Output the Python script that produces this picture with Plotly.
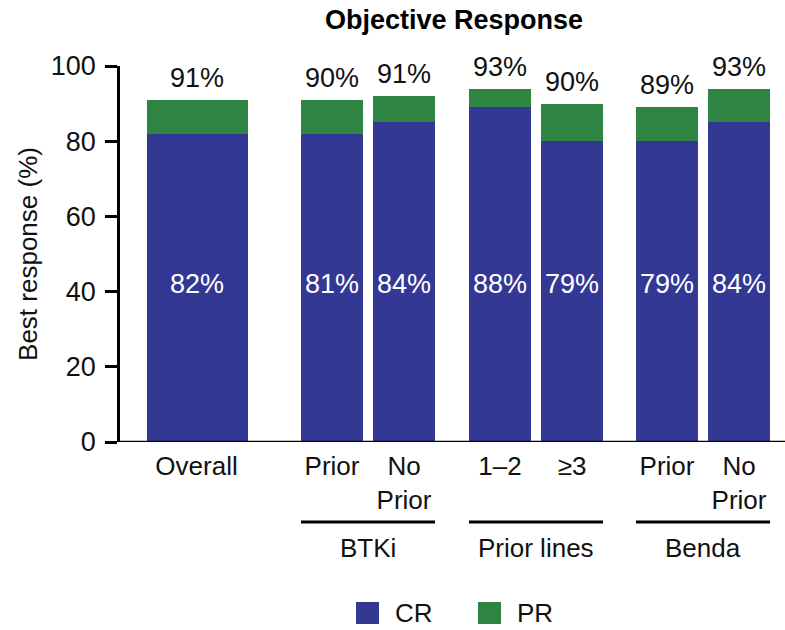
import plotly.graph_objects as go

# ---------------- data ----------------
group_names = ["", "BTKi", "Prior lines", "Benda"]
group_categories = [["Overall"], ["Prior", "No<br>Prior"], ["1–2", "≥3"], ["Prior", "No<br>Prior"]]
cr_values = [82, 82, 85, 89, 80, 80, 85]
pr_values = [9, 9, 7, 5, 10, 9, 9]
cr_labels = ["82%", "81%", "84%", "88%", "79%", "79%", "84%"]
orr_labels = ["91%", "90%", "91%", "93%", "90%", "89%", "93%"]
y_ticks = [0, 20, 40, 60, 80, 100]
series_names = ["CR", "PR"]

# ---------------- style / layout ----------------
W, H = 785, 630
L, R, T, B = 118, 0, 66, 188
PW, PH = W - L - R, H - T - B
CR_COLOR = "#343895"
PR_COLOR = "#2E8442"
FONT = "Liberation Sans, Arial, Helvetica, sans-serif"
TXT = "#111111"
FS = 26
GROUP_CENTER_PX = [196.5, 368, 536, 703]
GROUP_DOMAIN_PX = 144
BAR_PX = [101, 62, 62, 62]
CR_LABEL_Y = 42
GROUP_LINE_PX = 522
GROUP_LABEL_PX = 548


def px_x(px):
    return (px - L) / PW


def px_y(py):
    return (H - B - py) / PH


fig = go.Figure()
annotations = []
shapes = []
layout_axes = {}

idx = 0
for g, cats in enumerate(group_categories):
    n = len(cats)
    ax = "x" if g == 0 else f"x{g + 1}"
    axkey = "xaxis" if g == 0 else f"xaxis{g + 1}"
    cr = cr_values[idx:idx + n]
    pr = pr_values[idx:idx + n]
    crl = cr_labels[idx:idx + n]
    orl = orr_labels[idx:idx + n]
    width = BAR_PX[g] / (GROUP_DOMAIN_PX / n)
    fig.add_trace(go.Bar(x=cats, y=cr, name=series_names[0], marker_color=CR_COLOR,
                         marker_line_width=0, width=width, xaxis=ax, yaxis="y",
                         showlegend=False, hoverinfo="skip"))
    fig.add_trace(go.Bar(x=cats, y=pr, name=series_names[1], marker_color=PR_COLOR,
                         marker_line_width=0, width=width, xaxis=ax, yaxis="y",
                         showlegend=False, hoverinfo="skip"))
    c0 = GROUP_CENTER_PX[g] - GROUP_DOMAIN_PX / 2
    c1 = GROUP_CENTER_PX[g] + GROUP_DOMAIN_PX / 2
    layout_axes[axkey] = dict(
        domain=[px_x(c0), px_x(c1)], anchor="y", range=[-0.5, n - 0.5],
        type="category", categoryorder="array", categoryarray=cats,
        showline=False, showgrid=False, zeroline=False, ticks="",
        ticklabelstandoff=6,
        tickfont=dict(size=FS, color=TXT, family=FONT),
    )
    for k in range(n):
        annotations.append(dict(x=cats[k], y=CR_LABEL_Y, xref=ax, yref="y", text=crl[k],
                                showarrow=False, font=dict(size=27, color="white", family=FONT),
                                yanchor="middle"))
        annotations.append(dict(x=cats[k], y=cr[k] + pr[k], xref=ax, yref="y", text=orl[k],
                                showarrow=False, font=dict(size=27, color=TXT, family=FONT),
                                yanchor="bottom", yshift=5))
    if group_names[g]:
        shapes.append(dict(type="line", xref=ax, yref="paper", x0=-width / 2,
                           x1=n - 1 + width / 2, y0=px_y(GROUP_LINE_PX), y1=px_y(GROUP_LINE_PX),
                           line=dict(color="black", width=3)))
        annotations.append(dict(x=(n - 1) / 2, xref=ax, y=px_y(GROUP_LABEL_PX), yref="paper",
                                text=group_names[g], showarrow=False, yanchor="middle",
                                font=dict(size=FS, color=TXT, family=FONT)))
    idx += n

# baseline
shapes.append(dict(type="line", xref="paper", yref="y", x0=0, x1=1, y0=0, y1=0,
                   line=dict(color="black", width=2.5)))

# manual legend
for i, (name, col, sx, tx) in enumerate([(series_names[0], CR_COLOR, 356, 393),
                                         (series_names[1], PR_COLOR, 478, 515)]):
    shapes.append(dict(type="rect", xref="paper", yref="paper",
                       x0=px_x(sx), x1=px_x(sx + 23), y0=px_y(602), y1=px_y(624),
                       fillcolor=col, line=dict(width=0)))
    annotations.append(dict(x=px_x(tx), y=px_y(613), xref="paper", yref="paper", text=name,
                            showarrow=False, xanchor="left", yanchor="middle",
                            font=dict(size=FS, color=TXT, family=FONT)))

fig.update_layout(
    width=W, height=H, margin=dict(l=L, r=R, t=T, b=B, autoexpand=False),
    paper_bgcolor="white", plot_bgcolor="white",
    barmode="stack", bargap=0,
    font=dict(family=FONT, size=FS, color=TXT),
    title=dict(text="<b>Objective Response</b>", x=454 / W, xanchor="center",
               y=1 - 20 / H, yanchor="middle", font=dict(size=27, color="black", family=FONT)),
    yaxis=dict(range=[0, 100], tickvals=y_ticks, ticks="outside", ticklen=12, tickwidth=2.5,
               tickcolor="black", showline=True, linewidth=2.5, linecolor="black",
               showgrid=False, zeroline=False, anchor="free", position=0,
               ticklabelstandoff=4,
               tickfont=dict(size=27, color=TXT, family=FONT),
               title=dict(text="Best response (%)", font=dict(size=FS, color=TXT, family=FONT),
                          standoff=4)),
    showlegend=False,
    annotations=annotations,
    shapes=shapes,
    **layout_axes,
)

fig.write_html("out.html", config={"displayModeBar": False},
               post_script="document.body.style.margin='0';document.body.style.overflow='hidden';")
